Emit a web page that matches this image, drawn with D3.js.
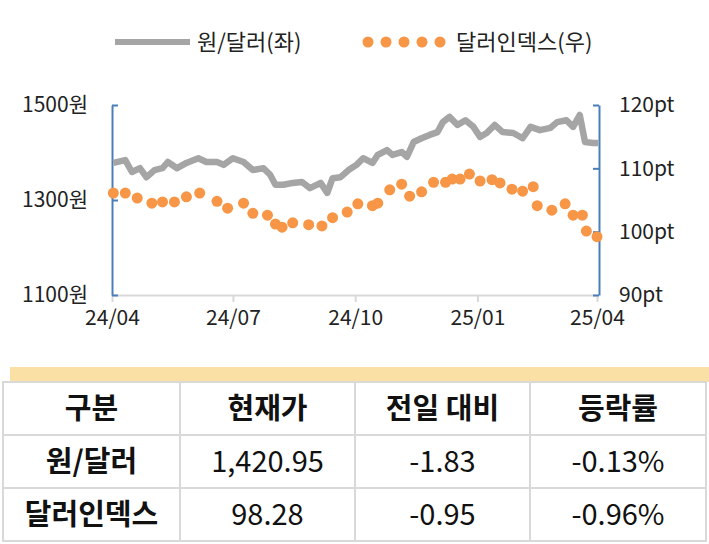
<!DOCTYPE html><html><head><meta charset="utf-8">
<script src="https://cdn.jsdelivr.net/npm/d3@7"></script>
<style>body{margin:0;background:#fff}text{font-family:"Noto Sans CJK KR","Noto Sans",sans-serif}</style></head><body>
<svg id="c" width="709" height="544"></svg>
<script>
const krwDays=[1,10,15,21,26,32,38,42,49,56,65,71,79,84,91,99,106,114,119,123,129,136,143,149,157,162,166,172,178,184,189,196,200,207,211,218,222,227,233,239,245,249,254,260,266,272,277,282,288,294,302,309,315,322,330,335,342,347,352,356,362,366];
const krwVals=[1378,1384,1359,1367,1348,1363,1367,1380,1367,1378,1388,1380,1380,1374,1388,1380,1363,1367,1353,1332,1332,1336,1338,1325,1336,1315,1346,1348,1363,1374,1388,1378,1395,1405,1395,1401,1391,1422,1430,1437,1443,1464,1475,1458,1468,1454,1433,1441,1458,1443,1441,1430,1454,1447,1452,1464,1468,1454,1479,1422,1420,1420];
const dxyDays=[1,10,19,30,38,47,56,66,79,87,99,106,117,123,128,136,148,158,166,177,185,196,200,209,218,224,233,242,251,256,262,269,277,286,292,301,309,317,320,331,341,347,354,357,365];
const dxyVals=[106.1,106.1,105.3,104.5,104.7,104.7,105.5,106.1,104.8,103.7,104.5,102.9,102.6,101.2,100.7,101.4,101.1,100.9,102.2,103.1,104.4,104.1,104.5,106.6,107.5,105.6,106.3,107.8,107.8,108.3,108.3,109.1,108.0,108.2,107.7,106.7,106.4,107.1,104.1,103.4,104.4,102.6,102.6,100.1,99.2];
const xTickDays=[0,91,183,275,365];
const xTickLabels=["24/04","24/07","24/10","25/01","25/04"];
const leftTicks=[1100,1300,1500];
const rightTicks=[90,100,110,120];
const tableHeader=["구분","현재가","전일 대비","등락률"];
const tableRows=[["원/달러","1,420.95","-1.83","-0.13%"],["달러인덱스","98.28","-0.95","-0.96%"]];

const svg=d3.select("#c");
const base=new Date(2024,3,1);
const toDate=d=>new Date(2024,3,1+d);
const x=d3.scaleTime().domain([base,toDate(365)]).range([112,597]);
const yL=d3.scaleLinear().domain([1100,1500]).range([295,105]);
const yR=d3.scaleLinear().domain([90,120]).range([295,105]);
const blue="#4a7ebb";
const gx=svg.append("g").attr("transform","translate(0,295)")
 .call(d3.axisBottom(x).tickValues(xTickDays.map(toDate)).tickFormat((d,i)=>xTickLabels[i]).tickSize(7).tickSizeOuter(0));
gx.select(".domain").attr("stroke","#d9d9d9").attr("stroke-width",2);
gx.selectAll(".tick line").attr("stroke","#d9d9d9").attr("stroke-width",2);
gx.selectAll("text").attr("font-size",21).attr("fill","#222").attr("dy","0.95em");
const gl=svg.append("g").attr("transform","translate(112,0)")
 .call(d3.axisLeft(yL).tickValues(leftTicks).tickFormat(d=>d+"원").tickSize(-6).tickSizeOuter(0).tickPadding(24));
gl.select(".domain").attr("stroke",blue).attr("stroke-width",2);
gl.selectAll(".tick line").attr("stroke",blue).attr("stroke-width",2);
gl.selectAll("text").attr("font-size",21).attr("fill","#222");
const gr=svg.append("g").attr("transform","translate(599,0)")
 .call(d3.axisRight(yR).tickValues(rightTicks).tickFormat(d=>d+"pt").tickSize(-6).tickSizeOuter(0).tickPadding(20));
gr.select(".domain").attr("stroke",blue).attr("stroke-width",2);
gr.selectAll(".tick line").attr("stroke",blue).attr("stroke-width",2);
gr.selectAll("text").attr("font-size",21).attr("fill","#222");
svg.append("path").datum(krwDays.map((d,i)=>[d,krwVals[i]]))
 .attr("d",d3.line().x(d=>x(toDate(d[0]))).y(d=>yL(d[1])))
 .attr("fill","none").attr("stroke","#a5a5a5").attr("stroke-width",6.5).attr("stroke-linejoin","round");
svg.selectAll(".dot").data(dxyDays.map((d,i)=>[d,dxyVals[i]])).enter().append("circle")
 .attr("cx",d=>x(toDate(d[0]))).attr("cy",d=>yR(d[1])).attr("r",5.5).attr("fill","#f79646");
svg.append("line").attr("x1",115).attr("x2",190).attr("y1",42).attr("y2",42).attr("stroke","#a5a5a5").attr("stroke-width",6);
svg.append("text").attr("x",197).attr("y",50).attr("font-size",22).attr("fill","#222").text("원/달러(좌)");
[368,386,404,422,440].forEach(cx=>svg.append("circle").attr("cx",cx).attr("cy",42).attr("r",5.5).attr("fill","#f79646"));
svg.append("text").attr("x",456).attr("y",50).attr("font-size",22).attr("fill","#222").text("달러인덱스(우)");
svg.append("rect").attr("x",10).attr("y",367).attr("width",699).attr("height",15).attr("fill","#fbe0a6");
const cols=[3,180,355,530,706], rowsY=[382,435,488,541];
const all=[tableHeader,...tableRows];
all.forEach((r,ri)=>r.forEach((t,ci)=>{
 svg.append("rect").attr("x",cols[ci]).attr("y",rowsY[ri]).attr("width",cols[ci+1]-cols[ci]).attr("height",rowsY[ri+1]-rowsY[ri])
  .attr("fill","#fff").attr("stroke","#d9d9d9").attr("stroke-width",2);
 svg.append("text").attr("x",(cols[ci]+cols[ci+1])/2).attr("y",(rowsY[ri]+rowsY[ri+1])/2+10).attr("text-anchor","middle")
  .attr("font-size",29).attr("font-weight",(ri==0||ci==0)?"bold":"normal").attr("fill","#111").text(t);
}));
</script></body></html>
